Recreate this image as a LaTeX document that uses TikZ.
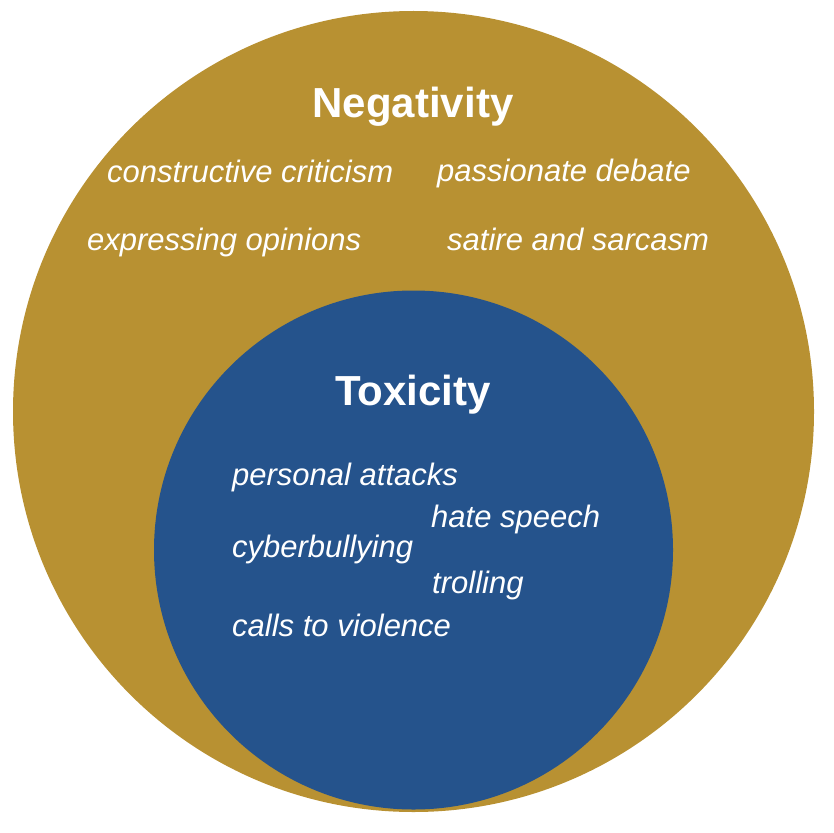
\documentclass[tikz,border=0pt]{standalone}
\usepackage{fontspec}
\setmainfont{Liberation Sans}
\definecolor{gold}{RGB}{184,145,50}
\definecolor{tblue}{RGB}{37,83,140}
\begin{document}
\begin{tikzpicture}[x=1pt,y=-1pt,
  title/.style={text=white,font=\fontsize{42}{42}\selectfont\bfseries,inner sep=0pt,anchor=base},
  item/.style={text=white,font=\fontsize{31}{32}\selectfont\itshape,inner sep=0pt,anchor=base west}]
\useasboundingbox (0,0) rectangle (834,832);
\fill[gold] (413.5,411.5) circle[radius=400.5];
\fill[tblue] (413.5,550) circle[radius=259.5];
\node[title] (neg) at (413,117.5) {Negativity};
\node[item] (cc) at (107,182) {constructive criticism};
\node[item] (pd) at (437,181) {passionate debate};
\node[item] (eo) at (87,250) {expressing opinions};
\node[item] (ss) at (447,250) {satire and sarcasm};
\node[title] (tox) at (413,405) {Toxicity};
\node[item] (pa) at (232,485) {personal attacks};
\node[item] (hs) at (431,527) {hate speech};
\node[item] (cb) at (232,557) {cyberbullying};
\node[item] (tr) at (432,593) {trolling};
\node[item] (cv) at (232,636) {calls to violence};
\end{tikzpicture}
\end{document}
